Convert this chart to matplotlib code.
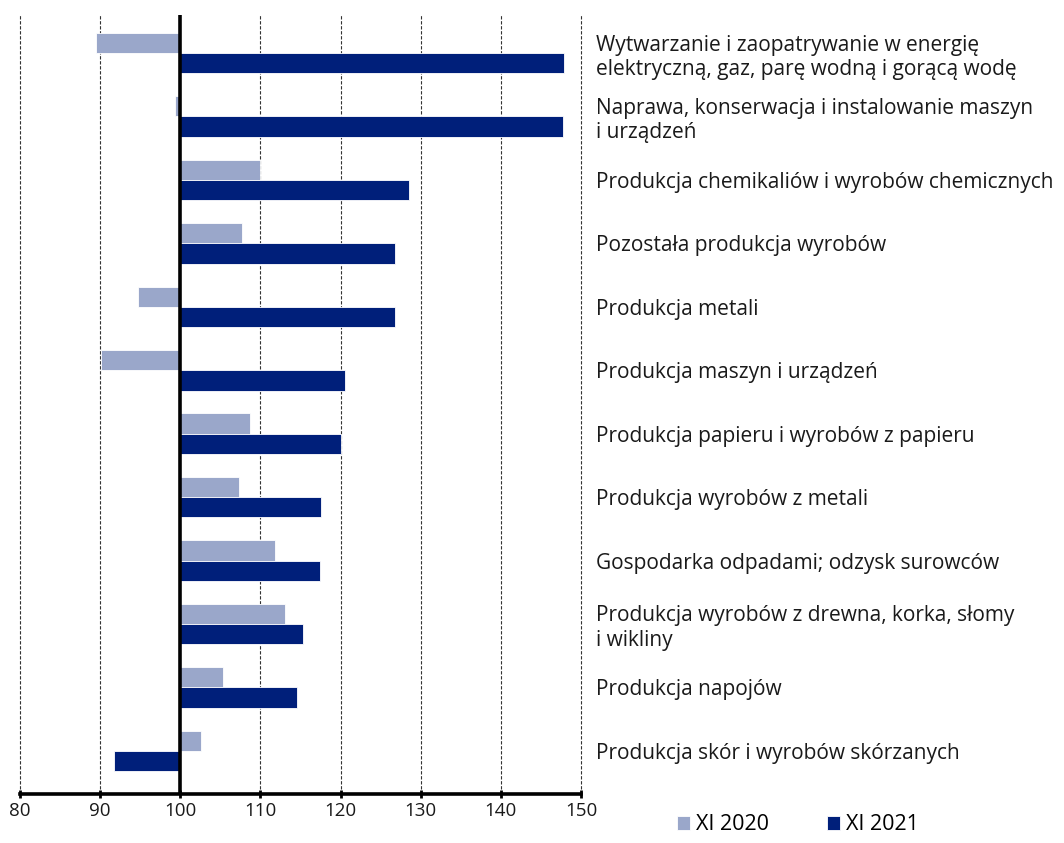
import matplotlib.pyplot as plt
import numpy as np

plt.rcParams['font.family'] = ['Open Sans', 'DejaVu Sans']

# dane: dynamika produkcji (ten sam okres roku poprzedniego = 100)
categories = [
    "Wytwarzanie i zaopatrywanie w energię\nelektryczną, gaz, parę wodną i gorącą wodę",
    "Naprawa, konserwacja i instalowanie maszyn\ni urządzeń",
    "Produkcja chemikaliów i wyrobów chemicznych",
    "Pozostała produkcja wyrobów",
    "Produkcja metali",
    "Produkcja maszyn i urządzeń",
    "Produkcja papieru i wyrobów z papieru",
    "Produkcja wyrobów z metali",
    "Gospodarka odpadami; odzysk surowców",
    "Produkcja wyrobów z drewna, korka, słomy\ni wikliny",
    "Produkcja napojów",
    "Produkcja skór i wyrobów skórzanych",
]
xi_2020 = [89.5, 99.3, 109.9, 107.7, 94.7, 90.1, 108.7, 107.3, 111.8, 113.1, 105.3, 102.6]
xi_2021 = [147.9, 147.7, 128.6, 126.8, 126.8, 120.5, 120.1, 117.5, 117.4, 115.3, 114.6, 91.7]
xticks = [80, 90, 100, 110, 120, 130, 140, 150]

light = '#9aa7ca'
dark = '#001f7a'

fig = plt.figure(figsize=(10.64, 8.43), dpi=100)
ax = fig.add_axes([20/1064, 1 - 794/843, (581-20)/1064, (794-15)/843])

y = np.arange(len(categories))
h = 0.32
base = 100
ax.barh(y - h/2, np.array(xi_2020) - base, left=base, height=h, color=light,
        edgecolor='white', linewidth=0.6, label='XI 2020', zorder=2)
ax.barh(y + h/2, np.array(xi_2021) - base, left=base, height=h, color=dark,
        edgecolor='white', linewidth=0.6, label='XI 2021', zorder=2)

ax.set_xlim(80, 150)
ax.set_ylim(11.68, -0.6)
ax.set_xticks(xticks)
ax.set_xticklabels([str(t) for t in xticks], fontsize=13.5, color='#1a1a1a')

for t in xticks:
    if t != 100:
        ax.axvline(t, color='#333333', linestyle=(0, (3, 1.5)), linewidth=0.8,
                   zorder=1, clip_on=False)
ax.axvline(100, color='black', linewidth=2.6, zorder=3)

ax.set_yticks(y)
ax.set_yticklabels(categories, fontsize=15, ha='left', color='#1a1a1a')
ax.yaxis.tick_right()
ax.tick_params(axis='y', length=0, pad=11)
ax.tick_params(axis='x', direction='inout', length=6, width=2, pad=3)

for s in ['top', 'left', 'right']:
    ax.spines[s].set_visible(False)
ax.spines['bottom'].set_linewidth(2.6)

fig.legend(loc='lower center', bbox_to_anchor=(0.75, -0.014), ncol=2, frameon=False,
           fontsize=15.5, handlelength=0.6, handleheight=0.6, handletextpad=0.3,
           columnspacing=2.7)

fig.savefig('out.png', dpi=100)
